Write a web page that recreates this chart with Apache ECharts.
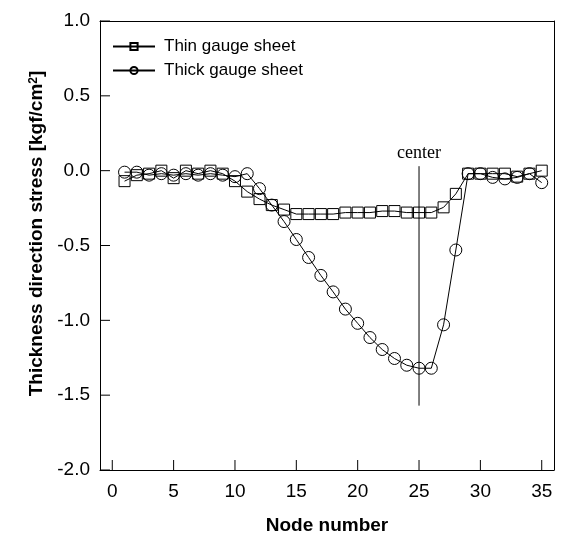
<!DOCTYPE html>
<html>
<head>
<meta charset="utf-8">
<script src="https://cdn.jsdelivr.net/npm/echarts@6/dist/echarts.min.js"></script>
<style>html,body{margin:0;padding:0;background:#fff}#c{width:564px;height:534px}</style>
</head>
<body>
<div id="c"></div>
<script>
const nodes = [1,2,3,4,5,6,7,8,9,10,11,12,13,14,15,16,17,18,19,20,21,22,23,24,25,26,27,28,29,30,31,32,33,34,35];
const thinGauge = [-0.07,-0.03,-0.02,0.00,-0.05,0.00,-0.02,0.00,-0.02,-0.07,-0.14,-0.19,-0.23,-0.26,-0.29,-0.29,-0.29,-0.29,-0.28,-0.28,-0.28,-0.27,-0.27,-0.28,-0.28,-0.28,-0.245,-0.155,-0.02,-0.02,-0.02,-0.02,-0.04,-0.02,0.00];
const thickGauge = [-0.01,-0.01,-0.03,-0.02,-0.03,-0.02,-0.03,-0.02,-0.03,-0.04,-0.02,-0.12,-0.23,-0.34,-0.46,-0.58,-0.70,-0.81,-0.925,-1.02,-1.115,-1.195,-1.255,-1.30,-1.32,-1.32,-1.03,-0.53,-0.02,-0.02,-0.045,-0.055,-0.045,-0.02,-0.08];
const centerNode = 25;
const centerLineY = [0.03, -1.57];
const xTicks = [0,5,10,15,20,25,30,35];
const yTicks = [-2.0,-1.5,-1.0,-0.5,0.0,0.5,1.0];
const xRange = [-1, 36];
const yRange = [-2, 1];
const seriesNames = ['Thin gauge sheet','Thick gauge sheet'];

const TICK_LEN = 10;
const chart = echarts.init(document.getElementById('c'), null, {renderer:'canvas'});
const txt = {color:'#000', fontFamily:'Liberation Sans, Arial, sans-serif'};
const frameAxis = () => ({show:true, axisLine:{show:true, onZero:false, lineStyle:{color:'#000', width:1}}, axisTick:{show:false}, axisLabel:{show:false}, splitLine:{show:false}});

function tickSeries(data, dx, dy){
  return {
    type:'custom', silent:true, clip:false, z:4,
    data:data,
    renderItem:function(params, api){
      const p = api.coord([api.value(0), api.value(1)]);
      return {type:'line', shape:{x1:p[0], y1:p[1], x2:p[0]+dx, y2:p[1]+dy}, style:{stroke:'#000', lineWidth:1}};
    }
  };
}

chart.setOption({
  backgroundColor:'#fff',
  animation:false,
  grid:{left:100, top:21, width:454, height:449, show:false, outerBoundsMode:'none', containLabel:false},
  legend:{
    orient:'vertical', left:107, top:33, itemWidth:42, itemHeight:9, itemGap:7,
    textStyle:Object.assign({fontSize:17, padding:[0,0,0,4]}, txt),
    data:seriesNames
  },
  xAxis:[{
    type:'value', min:xRange[0], max:xRange[1], position:'bottom',
    name:'Node number', nameLocation:'middle', nameGap:46,
    nameTextStyle:Object.assign({fontSize:19, fontWeight:'bold'}, txt),
    axisLine:{show:true, onZero:false, lineStyle:{color:'#000', width:1}},
    axisTick:{show:false},
    axisLabel:Object.assign({fontSize:19, margin:12, customValues:xTicks}, txt),
    splitLine:{show:false}
  },
  Object.assign({type:'value', min:xRange[0], max:xRange[1], position:'top'}, frameAxis())],
  yAxis:[{
    type:'value', min:yRange[0], max:yRange[1], interval:0.5, position:'left',
    name:'Thickness direction stress [kgf/cm{sup|2}]',
    nameLocation:'middle', nameGap:47, nameRotate:90,
    nameTextStyle:Object.assign({fontSize:19, fontWeight:'bold', padding:[0,0,0,24], rich:{sup:Object.assign({fontSize:12, fontWeight:'bold', verticalAlign:'top'}, txt)}}, txt),
    axisLine:{show:true, onZero:false, lineStyle:{color:'#000', width:1}},
    axisTick:{show:false},
    axisLabel:Object.assign({fontSize:19, margin:10, formatter:v=>v.toFixed(1)}, txt),
    splitLine:{show:false}
  },
  Object.assign({type:'value', min:yRange[0], max:yRange[1], position:'right'}, frameAxis())],
  series:[
    {
      name:seriesNames[0], type:'line',
      data:nodes.map((n,i)=>[n,thinGauge[i]]),
      symbol:'rect', symbolSize:11,
      lineStyle:{color:'#000', width:1},
      itemStyle:{color:'rgba(255,255,255,0)', borderColor:'#000', borderWidth:1},
      z:3
    },
    {
      name:seriesNames[1], type:'line',
      data:nodes.map((n,i)=>[n,thickGauge[i]]),
      symbol:'circle', symbolSize:12,
      lineStyle:{color:'#000', width:1},
      itemStyle:{color:'rgba(255,255,255,0)', borderColor:'#000', borderWidth:1},
      z:3
    },
    {
      name:'center', type:'line',
      data:centerLineY.map(v=>[centerNode, v]),
      symbol:'none', showSymbol:false,
      lineStyle:{color:'#000', width:1},
      markPoint:{
        symbol:'circle', symbolSize:0,
        data:[{coord:[centerNode, centerLineY[0]]}],
        label:{show:true, position:'top', distance:4, formatter:'center', color:'#000', fontSize:18, fontFamily:'Liberation Serif, Times New Roman, serif'}
      },
      z:2
    },
    tickSeries(xTicks.map(v=>[v, yRange[0]]), 0, -TICK_LEN),
    tickSeries(yTicks.map(v=>[xRange[0], v]), TICK_LEN, 0)
  ]
});
</script>
</body>
</html>
